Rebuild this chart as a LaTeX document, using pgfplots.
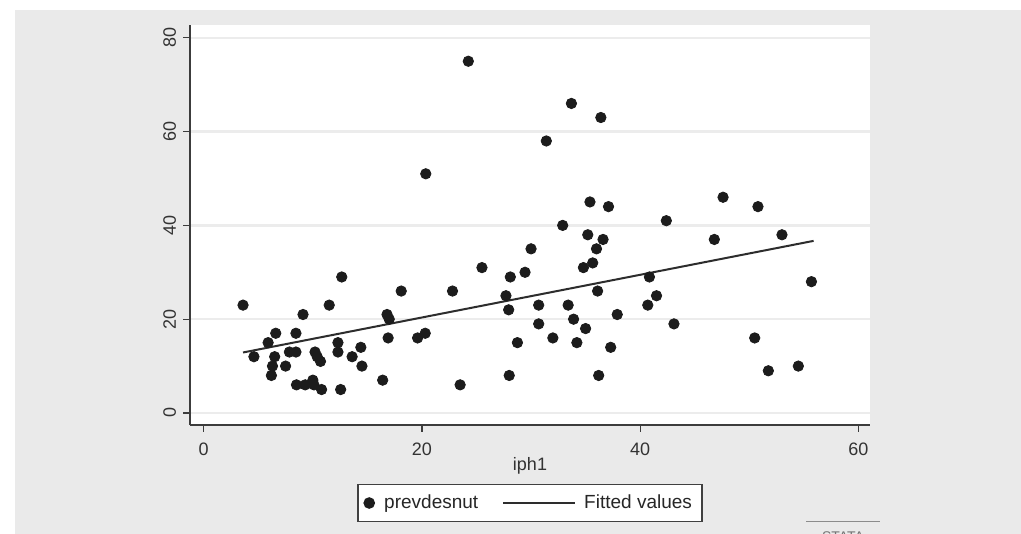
\documentclass[border=0pt]{standalone}
\usepackage{pgfplots}
\pgfplotsset{compat=1.18}
\usepackage{pgfplotstable}
\usepackage{fontspec}
\setmainfont{Liberation Sans}
\definecolor{bgc}{RGB}{234,234,234}
\definecolor{gridc}{RGB}{236,236,236}
\definecolor{dotc}{RGB}{28,28,28}
\definecolor{linec}{RGB}{45,45,45}
\definecolor{axc}{RGB}{60,60,60}

\pgfplotsset{
  dotleg/.style={legend image code/.code={\path[draw=none,fill=none] (-2.6pt,0pt) -- (5.5pt,0pt);\draw[##1] plot coordinates {(0pt,0pt)};}},
  lineleg/.style={legend image code/.code={\path[draw=none,fill=none] (0pt,0pt) -- (38.5pt,0pt);\draw[##1] (0pt,0pt) -- (36pt,0pt);}},
}

\pgfplotstableread{
x y
3.6 23
4.6 12
5.9 15
6.6 17
6.5 12
6.3 10
6.2 8
7.5 10
7.85 13
8.45 13
8.45 17
9.1 21
8.5 6
9.3 6
10.0 7
10.1 6
10.8 5
10.2 13
10.4 12
10.7 11
11.5 23
12.65 29
12.3 15
12.3 13
12.55 5
13.6 12
14.4 14
14.5 10
16.4 7
16.8 21
17.0 20
16.9 16
18.1 26
19.6 16
20.3 17
20.35 51
22.8 26
23.5 6
24.25 75
25.5 31
27.7 25
27.95 22
28.1 29
28.0 8
28.75 15
29.45 30
30.0 35
30.7 23
30.7 19
31.4 58
32.0 16
32.9 40
33.4 23
33.7 66
33.9 20
34.2 15
34.8 31
35.0 18
35.2 38
35.4 45
35.65 32
36.0 35
36.1 26
36.2 8
36.4 63
36.6 37
37.1 44
37.3 14
37.9 21
40.7 23
40.85 29
41.5 25
42.4 41
43.1 19
46.8 37
47.6 46
50.5 16
50.8 44
51.75 9
53.0 38
54.5 10
55.7 28
}\scatterdata

\pgfplotstableread{
x y
3.6 12.9
55.9 36.7
}\fitdata

\begin{document}
\begin{tikzpicture}
\useasboundingbox (0,0) rectangle (510.5pt,267pt);
\fill[white] (0,0) rectangle (510.5pt,267pt);
\fill[bgc] (7.5pt,0) rectangle (510.5pt,262pt);
\begin{axis}[
  at={(95pt,54.5pt)}, anchor=south west,
  scale only axis, width=340pt, height=200pt,
  xmin=-1.26, xmax=61.07, ymin=-2.56, ymax=82.73,
  axis x line*=bottom, axis y line*=left,
  axis line style={axc, line width=0.7pt, -},
  axis background/.style={fill=white},
  xtick={0,20,40,60}, ytick={0,20,40,60,80},
  tick align=outside, major tick length=3.5pt,
  tick style={axc, line width=0.6pt},
  ymajorgrids, grid style={gridc, line width=1.2pt},
  /pgf/number format/assume math mode=true,
  ticklabel style={font=\fontsize{9}{10}\selectfont, text=black!80},
  yticklabel style={rotate=90, anchor=south},
  xticklabel style={yshift=-2pt},
  xlabel={iph1},
  xlabel style={font=\fontsize{9}{10}\selectfont, text=black!80, at={(axis description cs:0.5,0)}, anchor=center, yshift=-20.5pt},
  legend columns=2,
  legend style={at={(0.5,-0.195)}, anchor=center, draw=black!75, line width=0.6pt, fill=white,
    font=\fontsize{9.5}{10.5}\selectfont, text=black!85,
    /tikz/every even column/.append style={column sep=10pt},
    inner xsep=3pt, inner ysep=3pt},
]
\addplot[only marks, mark=*, mark size=2.6pt, draw=dotc, fill=dotc, dotleg]
  table[x=x,y=y] {\scatterdata};
\addlegendentry{prevdesnut}
\addplot[no marks, linec, line width=1pt, lineleg]
  table[x=x,y=y] {\fitdata};
\addlegendentry{Fitted values}
\end{axis}
\draw[black!45, line width=0.5pt] (403pt,6pt) -- (440pt,6pt);
\begin{scope}
\clip (400pt,0pt) rectangle (445pt,5.5pt);
\node[font=\fontsize{7}{8}\selectfont, text=black!55, anchor=north] at (421.5pt,4.8pt) {STATA};
\end{scope}
\end{tikzpicture}
\end{document}
